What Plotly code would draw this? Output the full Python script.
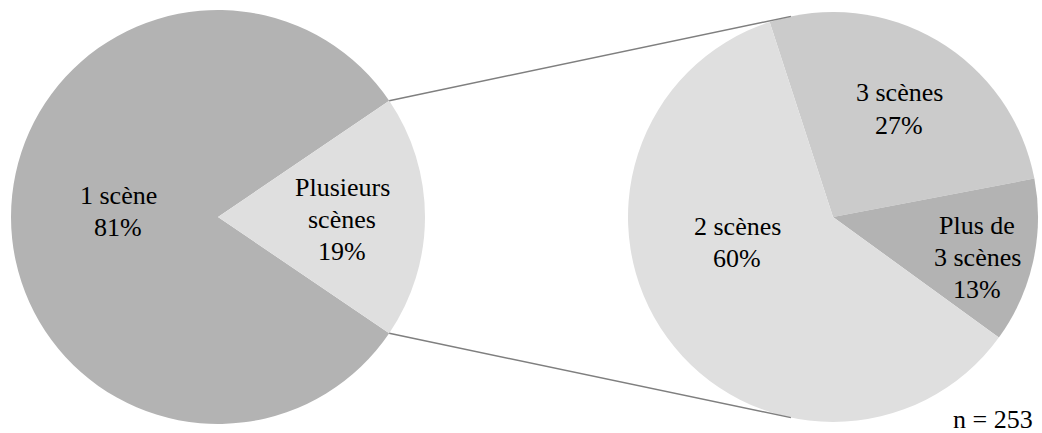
import math
import plotly.graph_objects as go

# ---- data ----
main_labels = ["1 scène", "Plusieurs scènes"]
main_display = ["1 scène", "Plusieurs<br>scènes"]
main_values = [81, 19]

sub_labels = ["3 scènes", "Plus de 3 scènes", "2 scènes"]
sub_display = ["3 scènes", "Plus de<br>3 scènes", "2 scènes"]
sub_values = [27, 13, 60]

n_total = 253

# ---- style / layout constants ----
W, H = 1042, 433
main_colors = ["#b3b3b3", "#dfdfdf"]
sub_colors = ["#cbcbcb", "#b3b3b3", "#dfdfdf"]
FONT = "Liberation Serif, Times New Roman, serif"
FS = 26
LINE_STEP = 32  # px between text lines

# pie geometry in pixels (centre x, centre y, radius)
L_CX, L_CY, L_R = 218, 217, 207
R_CX, R_CY, R_R = 833, 217, 205
SUB_ROTATION = -18


def dom(cx, cy, r):
    return dict(x=[(cx - r) / W, (cx + r) / W], y=[1 - (cy + r) / H, 1 - (cy - r) / H])


def px2paper(x, y):
    return x / W, 1 - y / H


# main pie: second slice centred on 3 o'clock
main_share = main_values[1] / sum(main_values)
main_rotation = 90 + main_share * 180

fig = go.Figure()
fig.add_trace(go.Pie(
    labels=main_labels, values=main_values, sort=False, direction="clockwise",
    rotation=main_rotation, domain=dom(L_CX, L_CY, L_R),
    marker=dict(colors=main_colors, line=dict(width=0)),
    textinfo="none", hoverinfo="label+percent", showlegend=False,
))
fig.add_trace(go.Pie(
    labels=sub_labels, values=sub_values, sort=False, direction="clockwise",
    rotation=SUB_ROTATION, domain=dom(R_CX, R_CY, R_R),
    marker=dict(colors=sub_colors, line=dict(width=0)),
    textinfo="none", hoverinfo="label+percent", showlegend=False,
))

# connector lines: from edges of the "Plusieurs" slice, tangent to secondary pie
half = main_share * math.pi  # half-angle in radians
shapes = []
for sign in (-1, 1):
    px = L_CX + L_R * math.cos(half)
    py = L_CY + sign * L_R * math.sin(half)
    vx, vy = px - R_CX, py - R_CY
    d2 = vx * vx + vy * vy
    k = R_R * math.sqrt(d2 - R_R * R_R) / d2
    cands = []
    for s in (-1, 1):
        tx = R_CX + (R_R * R_R / d2) * vx + s * k * (-vy)
        ty = R_CY + (R_R * R_R / d2) * vy + s * k * vx
        cands.append((tx, ty))
    tx, ty = min(cands, key=lambda t: sign * -t[1])
    x0, y0 = px2paper(px, py)
    x1, y1 = px2paper(tx, ty)
    shapes.append(dict(type="line", xref="paper", yref="paper", x0=x0, y0=y0, x1=x1, y1=y1,
                       line=dict(color="#7f7f7f", width=1.5)))

# label block centres (pixels)
main_pos = [(118, 211), (342, 219)]
sub_pos = [(899, 109), (977, 257), (737, 242)]

annotations = []


def add_block(text_lines, cx, cy):
    n = len(text_lines)
    for i, t in enumerate(text_lines):
        y = cy + (i - (n - 1) / 2) * LINE_STEP
        xp, yp = px2paper(cx, y)
        annotations.append(dict(text=t, x=xp, y=yp, xref="paper", yref="paper",
                                showarrow=False, xanchor="center", yanchor="middle",
                                font=dict(family=FONT, size=FS, color="#000000")))


for lab, val, (x, y) in zip(main_display, main_values, main_pos):
    add_block(lab.split("<br>") + [f"{val}%"], x, y)
for lab, val, (x, y) in zip(sub_display, sub_values, sub_pos):
    add_block(lab.split("<br>") + [f"{val}%"], x, y)
add_block([f"n = {n_total}"], 993, 419)

fig.update_layout(
    width=W, height=H, margin=dict(l=0, r=0, t=0, b=0),
    paper_bgcolor="white", plot_bgcolor="white",
    font=dict(family=FONT, size=FS),
    shapes=shapes, annotations=annotations, showlegend=False,
)

fig.write_html("out.html")
